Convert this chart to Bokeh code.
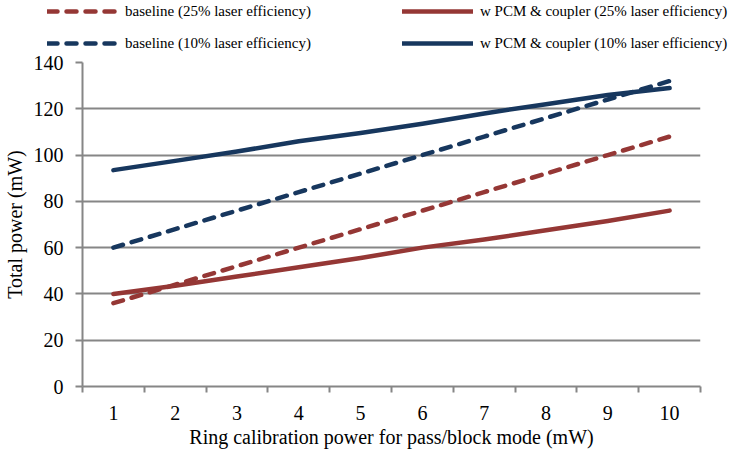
from bokeh.plotting import figure
from bokeh.models import Legend, LegendItem, FixedTicker, Range1d
from bokeh.layouts import column, row
from bokeh.embed import file_html
from bokeh.resources import INLINE

x_vals = [1, 2, 3, 4, 5, 6, 7, 8, 9, 10]
baseline_25 = [36, 44, 52, 60, 68, 76, 84, 92, 100, 108]
pcm_25 = [40, 43.5, 47.5, 51.5, 55.5, 60, 63.5, 67.5, 71.5, 76]
baseline_10 = [60, 68, 76, 84, 92, 100, 108, 116, 124, 132]
pcm_10 = [93.5, 97.5, 101.5, 106, 109.5, 113.5, 118, 122, 126, 129]
y_ticks = [0, 20, 40, 60, 80, 100, 120, 140]
labels = ["baseline (25% laser efficiency)", "w PCM & coupler (25% laser efficiency)",
          "baseline (10% laser efficiency)", "w PCM & coupler (10% laser efficiency)"]

RED = "#953735"
BLUE = "#17375E"
GRID = "#868686"
FONT = "Liberation Serif"

series = [(baseline_25, RED, "10 9"), (pcm_25, RED, "solid"),
          (baseline_10, BLUE, "10 9"), (pcm_10, BLUE, "solid")]

# ---- main plot ----
p = figure(width=734, height=398, output_backend="svg", toolbar_location=None,
           x_range=Range1d(0.5, 10.5), y_range=Range1d(0, 140),
           min_border_left=81, min_border_right=34, min_border_top=10, min_border_bottom=60)
p.outline_line_color = None
p.background_fill_color = "white"

for ys, col, dash in series:
    p.line(x_vals, ys, line_color=col, line_width=4.5, line_dash=dash,
           line_cap="round", line_join="round")

p.xaxis.ticker = FixedTicker(ticks=x_vals, minor_ticks=[v - 0.5 for v in x_vals] + [10.5])
p.xaxis.major_tick_out = 0
p.xaxis.major_tick_in = 0
p.xaxis.minor_tick_out = 6
p.xaxis.minor_tick_in = 0
p.xaxis.minor_tick_line_color = GRID
p.xaxis.minor_tick_line_width = 2
p.xaxis.axis_line_color = GRID
p.xaxis.axis_line_width = 2
p.xaxis.major_label_standoff = 13
p.xaxis.axis_label = "Ring calibration power for pass/block mode (mW)"
p.xaxis.axis_label_standoff = 3

p.yaxis.ticker = FixedTicker(ticks=y_ticks, minor_ticks=[])
p.yaxis.major_tick_out = 7
p.yaxis.major_tick_in = 0
p.yaxis.major_tick_line_color = GRID
p.yaxis.major_tick_line_width = 2
p.yaxis.axis_line_color = GRID
p.yaxis.axis_line_width = 2
p.yaxis.major_label_standoff = 12
p.yaxis.axis_label = "Total power (mW)"
p.yaxis.axis_label_standoff = 5

for ax in (p.xaxis[0], p.yaxis[0]):
    ax.major_label_text_font = FONT
    ax.major_label_text_font_size = "20px"
    ax.major_label_text_color = "black"
    ax.axis_label_text_font = FONT
    ax.axis_label_text_font_size = "20px"
    ax.axis_label_text_font_style = "normal"
    ax.axis_label_text_color = "black"

p.xgrid.grid_line_color = None
p.ygrid.ticker = FixedTicker(ticks=y_ticks[1:])
p.ygrid.grid_line_color = GRID
p.ygrid.grid_line_width = 2

# ---- legend strip (series drawn out of its view, used only as legend glyphs) ----
lf = figure(width=734, height=52, output_backend="svg", toolbar_location=None,
            x_axis_type=None, y_axis_type=None,
            x_range=Range1d(1000, 1001), y_range=Range1d(1000, 1001),
            min_border=0, min_border_left=0, min_border_right=0, min_border_top=0, min_border_bottom=0)
lf.grid.visible = False
lf.outline_line_color = None
rs = []
for ys, col, dash in series:
    rs.append(lf.line(x_vals, ys, line_color=col, line_width=4.5, line_dash=dash,
                      line_cap="round", line_join="round"))

def make_legend(items, loc):
    return Legend(items=items, location=loc, orientation="vertical",
                  background_fill_alpha=0, border_line_color=None,
                  padding=0, margin=0, spacing=14,
                  glyph_width=71, glyph_height=18, label_height=18,
                  label_standoff=7,
                  label_text_font=FONT, label_text_font_size="15px", label_text_color="black")

lf.add_layout(make_legend([LegendItem(label=labels[0], renderers=[rs[0]]),
                           LegendItem(label=labels[2], renderers=[rs[2]])], (47, 0)), "center")
lf.add_layout(make_legend([LegendItem(label=labels[1], renderers=[rs[1]]),
                           LegendItem(label=labels[3], renderers=[rs[3]])], (402, 0)), "center")

layout = column(row(lf, spacing=0), row(p, spacing=0), spacing=0)
open("out.html", "w").write(file_html(layout, INLINE))
